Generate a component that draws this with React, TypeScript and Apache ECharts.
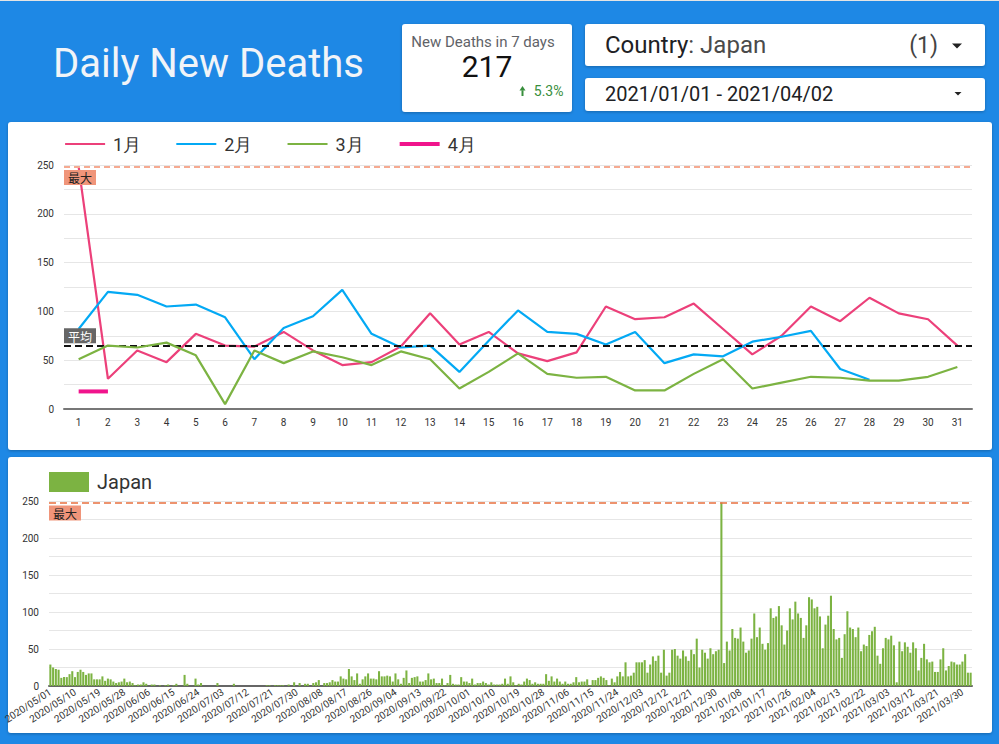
import React, { useEffect, useRef } from 'react';
import * as echarts from 'echarts';

// ---- Top chart: daily deaths by day of month (2021) ----
const dayLabels = ['1','2','3','4','5','6','7','8','9','10','11','12','13','14','15','16','17','18','19','20','21','22','23','24','25','26','27','28','29','30','31'];
const monthNames = ['1月', '2月', '3月', '4月'];
const jan = [248,31,60,48,77,65,64,79,60,45,48,64,98,66,79,57,49,58,105,92,94,108,82,56,75,105,90,114,98,92,65];
const feb = [82,120,117,105,107,94,51,83,95,122,77,63,65,38,70,101,79,77,66,79,47,56,54,69,74,80,41,30];
const mar = [51,65,63,68,55,5,60,47,59,53,45,59,51,21,38,57,36,32,33,19,19,36,51,21,27,33,32,29,29,33,43];
const apr = [18,18];

// ---- Bottom chart: Japan daily deaths 2020/05/01 - 2020/12/31 (2021 days come from the arrays above) ----
const may2020 = [29,25,23,22,11,12,12,16,20,12,19,22,19,15,17,17,9,9,9,13,7,10,9,6,4,5,6,10,5,6,4];
const jun2020 = [1,2,2,5,3,0,2,2,0,1,0,1,2,0,1,3,0,0,15,3,0,0,10,2,4,0,0,0,0,0];
const jul2020 = [4,0,0,0,0,0,3,0,0,0,0,0,0,0,0,0,0,0,1,1,0,1,1,1,1,0,2,0,5,0,4];
const aug2020 = [0,3,3,0,4,5,8,0,4,4,5,8,6,6,13,10,9,23,13,8,17,3,9,13,17,10,10,9,20,13,13];
const sep2020 = [14,13,6,17,9,3,11,21,4,11,12,13,6,6,8,17,9,10,4,4,10,1,4,15,3,2,2,12,6,6];
const oct2020 = [4,10,2,4,4,6,4,2,5,2,2,2,3,10,3,13,5,1,3,2,6,10,8,3,5,3,3,3,16,7,13];
const nov2020 = [6,10,6,3,6,3,3,5,12,5,6,6,9,1,8,8,11,13,11,8,1,10,5,13,19,13,32,13,14,18];
const dec2020 = [32,32,32,35,18,29,40,34,41,18,49,14,18,49,50,41,37,48,40,34,49,43,64,25,49,45,37,51,43,47,49];
const countryName = 'Japan';
const startDate = { y: 2020, m: 5, d: 1 };

const kpiTitle = 'New Deaths in 7 days';
const kpiValue = '217';
const kpiDelta = '5.3%';

function buildDates(n: number): string[] {
  const out: string[] = [];
  const base = Date.UTC(startDate.y, startDate.m - 1, startDate.d);
  for (let i = 0; i < n; i++) {
    const dt = new Date(base + i * 86400000);
    const mm = String(dt.getUTCMonth() + 1).padStart(2, '0');
    const dd = String(dt.getUTCDate()).padStart(2, '0');
    out.push(`${dt.getUTCFullYear()}/${mm}/${dd}`);
  }
  return out;
}

const FONT = 'Roboto';

function card(x: number, y: number, w: number, h: number) {
  return {
    type: 'rect',
    z: -1,
    shape: { x, y, width: w, height: h, r: 3 },
    style: {
      fill: '#ffffff',
      shadowBlur: 3,
      shadowColor: 'rgba(0,0,0,0.25)',
      shadowOffsetY: 1,
    },
  };
}

export default function App() {
  const ref = useRef<HTMLDivElement>(null);

  useEffect(() => {
    if (!ref.current) return;
    const chart = echarts.init(ref.current, null, { renderer: 'svg' });

    const monthly = [jan, feb, mar, apr];
    const all = monthly.flat();
    const maxAll = Math.max(...all);
    const avgAll = all.reduce((a, b) => a + b, 0) / all.length;

    const daily = [
      ...may2020, ...jun2020, ...jul2020, ...aug2020, ...sep2020, ...oct2020, ...nov2020, ...dec2020,
      ...jan, ...feb, ...mar, ...apr,
    ];
    const dates = buildDates(daily.length);

    const lineColors = ['#EC407A', '#03A9F4', '#7CB342', '#F0148C'];
    const lineWidths = [2.2, 2.2, 2.2, 4];

    const lineSeries: any[] = monthly.map((arr, i) => ({
      name: monthNames[i],
      type: 'line',
      xAxisIndex: 0,
      yAxisIndex: 0,
      data: arr,
      symbol: 'none',
      color: lineColors[i],
      lineStyle: { width: lineWidths[i], color: lineColors[i] },
      z: 3 + i,
    }));

    lineSeries[0].markLine = {
      symbol: 'none',
      silent: true,
      animation: false,
      data: [
        {
          name: '最大',
          yAxis: maxAll,
          lineStyle: { color: '#F5AA91', type: [6, 4], width: 2 },
          label: {
            show: true,
            formatter: '最大',
            position: 'insideStartBottom',
            distance: [0, 3],
            backgroundColor: '#F0957A',
            color: '#222',
            fontSize: 12,
            padding: [2, 4, 1, 4],
            fontFamily: 'Noto Sans CJK JP',
          },
        },
        {
          name: '平均',
          yAxis: avgAll,
          lineStyle: { color: '#111', type: [7, 4], width: 2 },
          label: {
            show: true,
            formatter: '平均',
            position: 'insideStartTop',
            distance: [0, 3],
            backgroundColor: '#666666',
            color: '#fff',
            fontSize: 12,
            padding: [2, 4, 1, 4],
            fontFamily: 'Noto Sans CJK JP',
          },
        },
      ],
    };

    const option: any = {
      animation: false,
      backgroundColor: '#1E88E5',
      textStyle: { fontFamily: FONT },
      graphic: [
        { type: 'rect', z: -1, shape: { x: 0, y: 0, width: 999, height: 1 }, style: { fill: '#e4e4e4' } },
        card(402, 24, 170, 88),
        card(585, 24, 400, 42),
        card(585, 78, 400, 33),
        card(8, 122, 984, 328),
        card(8, 457, 984, 276),
        {
          type: 'text', z: 10, x: 53, y: 63,
          style: { text: 'Daily New Deaths', fill: '#F1F4F8', fontSize: 40, fontFamily: FONT, align: 'left', verticalAlign: 'middle' },
        },
        {
          type: 'text', z: 10, x: 483, y: 42,
          style: { text: kpiTitle, fill: '#5f6368', fontSize: 15, fontFamily: FONT, align: 'center', verticalAlign: 'middle' },
        },
        {
          type: 'text', z: 10, x: 487, y: 66,
          style: { text: kpiValue, fill: '#111', fontSize: 30, fontFamily: FONT, align: 'center', verticalAlign: 'middle' },
        },
        {
          type: 'text', z: 10, x: 563.5, y: 90.5,
          style: { text: kpiDelta, fill: '#388E3C', fontSize: 14, fontFamily: FONT, align: 'right', verticalAlign: 'middle' },
        },
        { type: 'polygon', z: 10, shape: { points: [[519.5, 90.5], [522.5, 86], [525.5, 90.5]] }, style: { fill: '#388E3C' } },
        { type: 'rect', z: 10, shape: { x: 521.5, y: 90.3, width: 2, height: 5.7 }, style: { fill: '#388E3C' } },
        {
          type: 'text', z: 10, x: 605, y: 45,
          style: {
            text: '{a|Country}{b|: ' + countryName + '}',
            verticalAlign: 'middle',
            align: 'left',
            rich: {
              a: { fill: '#202124', fontSize: 24, fontFamily: FONT },
              b: { fill: '#4a4a4a', fontSize: 24, fontFamily: FONT },
            },
          },
        },
        {
          type: 'text', z: 10, x: 938, y: 45,
          style: { text: '(1)', fill: '#444', fontSize: 23, fontFamily: FONT, align: 'right', verticalAlign: 'middle' },
        },
        { type: 'polygon', z: 10, shape: { points: [[952, 43.5], [962, 43.5], [957, 48.5]] }, style: { fill: '#222' } },
        {
          type: 'text', z: 10, x: 605, y: 94,
          style: { text: '2021/01/01 - 2021/04/02', fill: '#202124', fontSize: 20, fontFamily: FONT, align: 'left', verticalAlign: 'middle' },
        },
        { type: 'polygon', z: 10, shape: { points: [[954.5, 92], [961.5, 92], [958, 95.5]] }, style: { fill: '#222' } },
      ],
      legend: [
        {
          data: [
            { name: '1月' },
            { name: '2月' },
            { name: '3月' },
            { name: '4月', lineStyle: { width: 4 } },
          ],
          left: 64,
          top: 135,
          padding: 0,
          itemWidth: 40,
          itemHeight: 14,
          itemGap: 34,
          lineStyle: { width: 2.2 },
          itemStyle: { color: 'rgba(0,0,0,0)', borderWidth: 0, borderColor: 'rgba(0,0,0,0)' },
          textStyle: { fontSize: 18, color: '#333', fontFamily: FONT, padding: [0, 0, 0, 3] },
        },
        {
          data: [countryName],
          left: 49,
          top: 472,
          padding: 0,
          icon: 'rect',
          itemWidth: 40,
          itemHeight: 20,
          textStyle: { fontSize: 20, color: '#333', fontFamily: FONT, padding: [0, 0, 0, 3] },
        },
      ],
      grid: [
        { left: 64, right: 27, top: 165, height: 244 },
        { left: 49, right: 27, top: 501, height: 185 },
      ],
      xAxis: [
        {
          type: 'category',
          gridIndex: 0,
          data: dayLabels,
          boundaryGap: true,
          axisTick: { show: false },
          axisLine: { lineStyle: { color: '#777', width: 2 } },
          axisLabel: { fontSize: 10, color: '#333', margin: 8, interval: 0, fontFamily: FONT },
        },
        {
          type: 'category',
          gridIndex: 1,
          data: dates,
          boundaryGap: true,
          axisTick: { show: false },
          axisLine: { lineStyle: { color: '#666', width: 2 } },
          axisLabel: { fontSize: 10, color: '#333', margin: 5, interval: 8, rotate: 33, fontFamily: FONT },
        },
      ],
      yAxis: [
        {
          type: 'value',
          gridIndex: 0,
          min: 0,
          max: 250,
          interval: 25,
          axisLine: { show: false },
          axisTick: { show: false },
          splitLine: { lineStyle: { color: '#e6e6e6' } },
          axisLabel: {
            fontSize: 10, color: '#333', margin: 10, fontFamily: FONT,
            formatter: (v: number) => (v % 50 === 0 ? String(v) : ''),
          },
        },
        {
          type: 'value',
          gridIndex: 1,
          min: 0,
          max: 250,
          interval: 25,
          axisLine: { show: false },
          axisTick: { show: false },
          splitLine: { lineStyle: { color: '#e6e6e6' } },
          axisLabel: {
            fontSize: 10, color: '#333', margin: 10, fontFamily: FONT,
            formatter: (v: number) => (v % 50 === 0 ? String(v) : ''),
          },
        },
      ],
      series: [
        ...lineSeries,
        {
          name: countryName,
          type: 'bar',
          xAxisIndex: 1,
          yAxisIndex: 1,
          data: daily,
          color: '#7CB342',
          barCategoryGap: '25%',
          markLine: {
            symbol: 'none',
            silent: true,
            animation: false,
            data: [{ type: 'max', name: '最大' }],
            lineStyle: { color: '#E8703F', type: [7, 4], width: 1.5 },
            label: {
              show: true,
              formatter: '最大',
              position: 'insideStartBottom',
              distance: [0, 3],
              backgroundColor: '#F0957A',
              color: '#222',
              fontSize: 12,
              padding: [2, 4, 1, 4],
              fontFamily: 'Noto Sans CJK JP',
            },
          },
        },
      ],
    };

    chart.setOption(option);
    return () => {
      chart.dispose();
    };
  }, []);

  return (
    <div
      ref={ref}
      style={{ position: 'fixed', left: 0, top: 0, width: 999, height: 744 }}
    />
  );
}
